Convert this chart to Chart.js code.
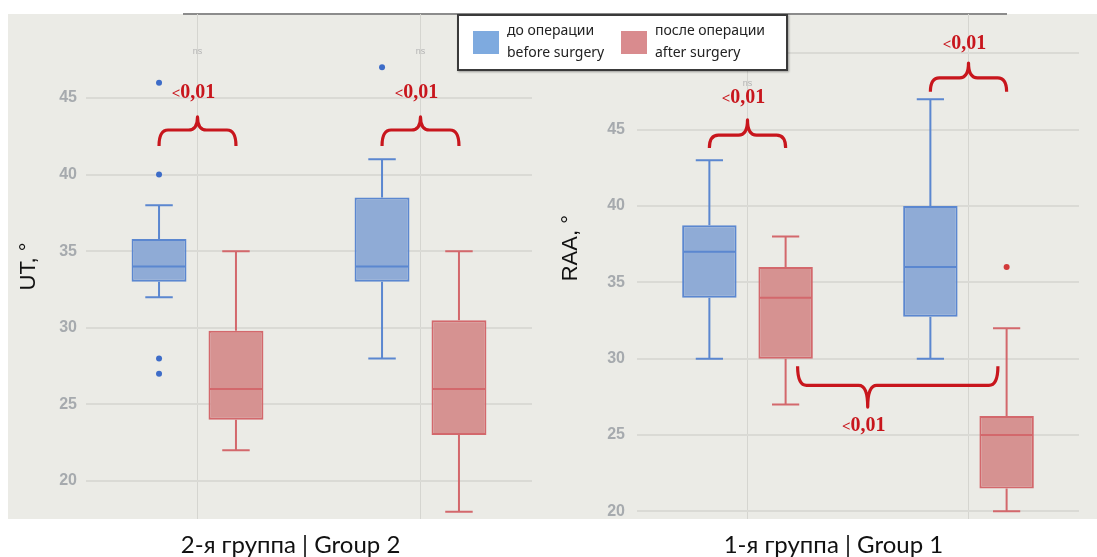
<!DOCTYPE html>
<html lang="ru">
<head>
  <meta charset="UTF-8">
  <title>UT / RAA до и после операции</title>
  <script src="https://cdn.jsdelivr.net/npm/chart.js@4"></script>
  <style>
    body { margin: 0; background: #fff; }
    #wrap { position: relative; width: 1097px; height: 557px; overflow: hidden; background: #fff; }
    #panel { position: absolute; left: 8px; top: 14px; width: 1089px; height: 505px; background: #ebebe6; }
    #topline { position: absolute; left: 183px; top: 13px; width: 824px; height: 2px; background: #8c8c8c; }
    canvas { position: absolute; top: 0; }
    #legend {
      position: absolute; left: 457px; top: 14px; width: 327px; height: 53px;
      background: #fff; border: 2px solid #3a3a3a; box-shadow: 1px 1px 2px rgba(0,0,0,.35);
      font-family: "Noto Sans", sans-serif; font-size: 14px; color: #222; line-height: 22px;
    }
    .item { position: absolute; top: 3px; }
    .sw { position: absolute; top: 12px; width: 26px; height: 23px; }
    .txt { position: absolute; left: 34px; top: 0; white-space: nowrap; }
  </style>
</head>
<body>
<div id="wrap">
  <div id="panel"></div>
  <div id="topline"></div>
  <canvas id="leftChart" width="548" height="557" style="left:0"></canvas>
  <canvas id="rightChart" width="549" height="557" style="left:548px"></canvas>
  <div id="legend"></div>
</div>
<script>
  // legend text
  const labelBefore = ['до операции', 'before surgery'];
  const labelAfter = ['после операции', 'after surgery'];

  // left panel: UT, group 2
  const utCategories = ['1', '2'];
  const utTicks = [20, 25, 30, 35, 40, 45];
  const utBeforeMin = [32, 28];
  const utBeforeQ1 = [33, 33];
  const utBeforeMed = [34, 34];
  const utBeforeQ3 = [35.8, 38.5];
  const utBeforeMax = [38, 41];
  const utBeforeOut = [[46, 40, 28, 27], [47]];
  const utAfterMin = [22, 18];
  const utAfterQ1 = [24, 23];
  const utAfterMed = [26, 26];
  const utAfterQ3 = [29.8, 30.5];
  const utAfterMax = [35, 35];
  const utAfterOut = [[], []];

  // right panel: RAA, group 1
  const raaCategories = ['1', '2'];
  const raaTicks = [20, 25, 30, 35, 40, 45, 50];
  const raaBeforeMin = [30, 30];
  const raaBeforeQ1 = [34, 32.75];
  const raaBeforeMed = [37, 36];
  const raaBeforeQ3 = [38.75, 40];
  const raaBeforeMax = [43, 47];
  const raaBeforeOut = [[], []];
  const raaAfterMin = [27, 20];
  const raaAfterQ1 = [30, 21.5];
  const raaAfterMed = [34, 25];
  const raaAfterQ3 = [36, 26.25];
  const raaAfterMax = [38, 32];
  const raaAfterOut = [[], [36]];

  const BLUE = { fill: '#8fabd6', line: '#5b87d0', dot: '#3d6cc8', swatch: '#7eaadf' };
  const RED = { fill: '#d69291', line: '#d3686c', dot: '#d23a3a', swatch: '#d98b8e' };
  const ANNO = '#c8161d';
  const NB = '\u00a0';

  // legend from dataset labels
  const legend = document.getElementById('legend');
  [[labelBefore, BLUE.swatch, 14], [labelAfter, RED.swatch, 162]].forEach(([lines, col, left]) => {
    const it = document.createElement('div');
    it.className = 'item';
    it.style.left = left + 'px';
    it.innerHTML = '<div class="sw" style="background:' + col + '"></div><div class="txt">' + lines.join('<br>') + '</div>';
    legend.appendChild(it);
  });

  function boxPlugin(series, notes) {
    return {
      id: 'boxes',
      afterDatasetsDraw(chart) {
        const ctx = chart.ctx, y = chart.scales.y, x = chart.scales.x;
        const py = v => y.getPixelForValue(v);
        ctx.save();
        // "ns" marks
        ctx.fillStyle = '#b4b4b4';
        ctx.font = '9px "Liberation Sans"';
        ctx.textAlign = 'center';
        ctx.textBaseline = 'middle';
        notes.ns.forEach(i => ctx.fillText('ns', x.getPixelForValue(i), py(48)));
        // whiskers, medians, outliers
        series.forEach((s, di) => {
          chart.getDatasetMeta(di).data.forEach((bar, j) => {
            const cx = bar.x, hw = bar.width / 2, cw = bar.width / 4;
            ctx.strokeStyle = s.col.line;
            ctx.lineWidth = 2;
            ctx.beginPath();
            ctx.moveTo(cx, py(s.q3[j])); ctx.lineTo(cx, py(s.max[j]));
            ctx.moveTo(cx - cw, py(s.max[j])); ctx.lineTo(cx + cw, py(s.max[j]));
            ctx.moveTo(cx, py(s.q1[j])); ctx.lineTo(cx, py(s.min[j]));
            ctx.moveTo(cx - cw, py(s.min[j])); ctx.lineTo(cx + cw, py(s.min[j]));
            ctx.moveTo(cx - hw + 1, py(s.med[j])); ctx.lineTo(cx + hw - 1, py(s.med[j]));
            ctx.stroke();
            ctx.fillStyle = s.col.dot;
            s.out[j].forEach(v => {
              ctx.beginPath();
              ctx.arc(cx, py(v), 3, 0, Math.PI * 2);
              ctx.fill();
            });
          });
        });
        // significance braces
        notes.braces.forEach(b => {
          const e0 = chart.getDatasetMeta(b.a[0]).data[b.a[1]];
          const e1 = chart.getDatasetMeta(b.b[0]).data[b.b[1]];
          const x0 = e0.x + b.a[2] * e0.width, x1 = e1.x + b.b[2] * e1.width;
          const xm = x0 + (x1 - x0) * (b.tip || 0.5);
          const yE = py(b.end), yL = py(b.line), yT = py(b.top);
          ctx.strokeStyle = ANNO;
          ctx.lineWidth = 3.2;
          ctx.lineJoin = 'round';
          ctx.beginPath();
          ctx.moveTo(x0, yE);
          ctx.quadraticCurveTo(x0, yL, x0 + 9, yL);
          ctx.lineTo(xm - 9, yL);
          ctx.quadraticCurveTo(xm, yL, xm, yT);
          ctx.quadraticCurveTo(xm, yL, xm + 9, yL);
          ctx.lineTo(x1 - 9, yL);
          ctx.quadraticCurveTo(x1, yL, x1, yE);
          ctx.stroke();
          // "<" drawn a bit smaller than the digits
          ctx.fillStyle = ANNO;
          ctx.textBaseline = 'middle';
          ctx.textAlign = 'left';
          const ly = py(b.label);
          ctx.font = 'bold 20px "Liberation Serif"';
          const wNum = ctx.measureText('0,01').width;
          ctx.font = 'bold 15px "Liberation Serif"';
          const wLt = ctx.measureText('<').width;
          const lx = xm - 4 - (wNum + wLt) / 2;
          ctx.fillText('<', lx, ly + 1);
          ctx.font = 'bold 20px "Liberation Serif"';
          ctx.fillText('0,01', lx + wLt, ly);
        });
        ctx.restore();
      }
    };
  }

  function makeChart(id, c) {
    const mk = (lbl, col, q1, q3) => ({
      label: lbl.join(' / '),
      data: q1.map((v, i) => [v, q3[i]]),
      backgroundColor: col.fill,
      borderColor: col.line,
      borderWidth: 2,
      borderSkipped: false,
      categoryPercentage: 0.69,
      barPercentage: 0.714
    });
    return new Chart(document.getElementById(id), {
      type: 'bar',
      data: {
        labels: c.labels,
        datasets: [
          mk(labelBefore, BLUE, c.before.q1, c.before.q3),
          mk(labelAfter, RED, c.after.q1, c.after.q3)
        ]
      },
      options: {
        responsive: false,
        animation: false,
        layout: { padding: { left: 0, right: c.padRight, top: 14, bottom: 0 } },
        plugins: { legend: { display: false }, tooltip: { enabled: false } },
        scales: {
          x: {
            grid: { offset: false, color: '#d5d5d0', lineWidth: 1, drawTicks: false },
            border: { display: false },
            ticks: { display: false },
            title: {
              display: true, text: c.xTitle + NB.repeat(c.xShift), color: '#111',
              font: { family: 'Lato', size: 24, lineHeight: 1 },
              padding: { top: 14, bottom: 0 }
            }
          },
          y: {
            min: c.min, max: c.max,
            afterBuildTicks: s => { s.ticks = c.ticks.map(v => ({ value: v })); },
            afterFit: s => { s.width = c.yWidth; s.paddingTop = 0; s.paddingBottom = 0; },
            grid: { color: '#dadad5', lineWidth: 2, drawTicks: false },
            border: { display: false },
            ticks: { padding: c.tickPad, color: '#a6aaae', font: { family: 'Liberation Sans', size: 16, weight: 'bold' } },
            title: {
              display: true, text: c.yTitle, color: '#111',
              font: { family: 'Liberation Sans', size: 22, lineHeight: 1 },
              padding: { top: c.titlePad, bottom: 0 }
            }
          }
        }
      },
      plugins: [boxPlugin([
        Object.assign({ col: BLUE }, c.before),
        Object.assign({ col: RED }, c.after)
      ], c.notes)]
    });
  }

  makeChart('leftChart', {
    labels: utCategories, ticks: utTicks, min: 17.52, max: 50.48,
    yTitle: 'UT, °', xTitle: '2-я группа | Group 2', xShift: 6,
    yWidth: 86, tickPad: 9, titlePad: 18, padRight: 16,
    before: { min: utBeforeMin, q1: utBeforeQ1, med: utBeforeMed, q3: utBeforeQ3, max: utBeforeMax, out: utBeforeOut },
    after: { min: utAfterMin, q1: utAfterQ1, med: utAfterMed, q3: utAfterQ3, max: utAfterMax, out: utAfterOut },
    notes: {
      ns: [0, 1],
      braces: [
        { a: [0, 0, 0], b: [1, 0, 0], end: 41.87, line: 42.91, top: 43.76, label: 45.33 },
        { a: [0, 1, 0], b: [1, 1, 0], end: 41.87, line: 42.91, top: 43.76, label: 45.33 }
      ]
    }
  });

  makeChart('rightChart', {
    labels: raaCategories, ticks: raaTicks, min: 19.5, max: 52.58,
    yTitle: NB.repeat(6) + 'RAA, °', xTitle: '1-я группа | Group 1', xShift: 8,
    yWidth: 89, tickPad: 12, titlePad: 12, padRight: 18,
    before: { min: raaBeforeMin, q1: raaBeforeQ1, med: raaBeforeMed, q3: raaBeforeQ3, max: raaBeforeMax, out: raaBeforeOut },
    after: { min: raaAfterMin, q1: raaAfterQ1, med: raaAfterMed, q3: raaAfterQ3, max: raaAfterMax, out: raaAfterOut },
    notes: {
      ns: [0],
      braces: [
        { a: [0, 0, 0], b: [1, 0, 0], end: 43.8, line: 44.65, top: 45.64, label: 47.1 },
        { a: [0, 1, 0], b: [1, 1, 0], end: 47.48, line: 48.4, top: 49.37, label: 50.62 },
        { a: [1, 0, 0.22], b: [1, 1, -0.16], end: 29.5, line: 28.25, top: 26.83, label: 25.58, tip: 0.35 }
      ]
    }
  });
</script>
</body>
</html>
